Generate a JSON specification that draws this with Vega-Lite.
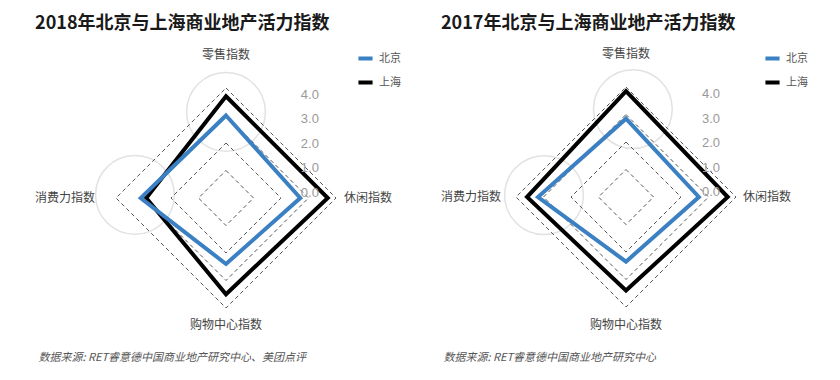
{
  "$schema": "https://vega.github.io/schema/vega-lite/v6.json",
  "padding": {"left": 35, "top": 15, "right": 0, "bottom": 0},
  "background": "white",
  "spacing": 22,
  "config": {"view": {"stroke": null}, "font": "Noto Sans CJK SC"},
  "datasets": {
    "d2018": [
      {"city": "上海", "axis": "零售指数", "value": 3.7},
      {"city": "上海", "axis": "休闲指数", "value": 3.7},
      {"city": "上海", "axis": "购物中心指数", "value": 3.5},
      {"city": "上海", "axis": "消费力指数", "value": 2.9},
      {"city": "北京", "axis": "零售指数", "value": 3.0},
      {"city": "北京", "axis": "休闲指数", "value": 2.7},
      {"city": "北京", "axis": "购物中心指数", "value": 2.4},
      {"city": "北京", "axis": "消费力指数", "value": 3.1}
    ],
    "d2017": [
      {"city": "上海", "axis": "零售指数", "value": 3.85},
      {"city": "上海", "axis": "休闲指数", "value": 3.7},
      {"city": "上海", "axis": "购物中心指数", "value": 3.4},
      {"city": "上海", "axis": "消费力指数", "value": 3.6},
      {"city": "北京", "axis": "零售指数", "value": 2.85},
      {"city": "北京", "axis": "休闲指数", "value": 2.65},
      {"city": "北京", "axis": "购物中心指数", "value": 2.35},
      {"city": "北京", "axis": "消费力指数", "value": 3.2}
    ],
    "rings": [
      {"value": 1, "axis": "零售指数"}, {"value": 1, "axis": "休闲指数"}, {"value": 1, "axis": "购物中心指数"}, {"value": 1, "axis": "消费力指数"},
      {"value": 2, "axis": "零售指数"}, {"value": 2, "axis": "休闲指数"}, {"value": 2, "axis": "购物中心指数"}, {"value": 2, "axis": "消费力指数"},
      {"value": 3, "axis": "零售指数"}, {"value": 3, "axis": "休闲指数"}, {"value": 3, "axis": "购物中心指数"}, {"value": 3, "axis": "消费力指数"},
      {"value": 4, "axis": "零售指数"}, {"value": 4, "axis": "休闲指数"}, {"value": 4, "axis": "购物中心指数"}, {"value": 4, "axis": "消费力指数"}
    ],
    "axes": [
      {"axis": "零售指数"}, {"axis": "休闲指数"}, {"axis": "购物中心指数"}, {"axis": "消费力指数"}
    ],
    "scaleLabels": [
      {"t": "0.0", "v": 0}, {"t": "1.0", "v": 1}, {"t": "2.0", "v": 2}, {"t": "3.0", "v": 3}, {"t": "4.0", "v": 4}
    ]
  },
  "resolve": {"legend": {"color": "independent"}, "scale": {"color": "independent"}},
  "hconcat": [
    {
      "width": 380, "height": 300,
      "title": {"text": "2018年北京与上海商业地产活力指数", "anchor": "start", "fontSize": 18, "fontWeight": "bold", "font": "Noto Sans CJK SC", "color": "#1a1a1a", "offset": 7},
      "encoding": {
        "x": {"field": "x", "type": "quantitative", "scale": {"domain": [-6.836, 6.982], "nice": false, "zero": false},
              "axis": {"title": "数据来源: RET睿意德中国商业地产研究中心、美团点评", "labels": false, "ticks": false, "domain": false, "grid": false, "titleAnchor": "start", "titleFont": "Noto Sans CJK SC", "titleFontSize": 11, "titleFontStyle": "italic", "titleFontWeight": "normal", "titleColor": "#555", "titlePadding": 11}},
        "y": {"field": "y", "type": "quantitative", "scale": {"domain": [-5.164, 5.745], "nice": false, "zero": false}, "axis": null}
      },
      "layer": [
        {"data": {"name": "axes"},
         "transform": [
           {"filter": "datum.axis==='零售指数' || datum.axis==='消费力指数'"},
           {"calculate": "datum.axis==='消费力指数' ? -3.31 : 0", "as": "x"},
           {"calculate": "datum.axis==='零售指数' ? 3.13 : 0.11", "as": "y"}
         ],
         "mark": {"type": "point", "shape": "circle", "size": 6200, "filled": true, "fill": "white", "stroke": "#e2e2e2", "strokeWidth": 1.5, "opacity": 1}},
        {"data": {"name": "rings"},
         "transform": [
           {"calculate": "datum.axis==='休闲指数' ? datum.value : datum.axis==='消费力指数' ? -datum.value : 0", "as": "x"},
           {"calculate": "datum.axis==='零售指数' ? datum.value : datum.axis==='购物中心指数' ? -datum.value : 0", "as": "y"}
         ],
         "mark": {"type": "line", "interpolate": "linear-closed", "stroke": "#555", "strokeWidth": 1, "strokeDash": [4, 3]},
         "encoding": {"detail": {"field": "value", "type": "nominal"}, "order": {"value": null}}},
        {"data": {"name": "d2018"},
         "transform": [
           {"calculate": "datum.axis==='休闲指数' ? datum.value : datum.axis==='消费力指数' ? -datum.value : 0", "as": "x"},
           {"calculate": "datum.axis==='零售指数' ? datum.value : datum.axis==='购物中心指数' ? -datum.value : 0", "as": "y"}
         ],
         "mark": {"type": "line", "interpolate": "linear-closed", "strokeWidth": 4, "strokeJoin": "miter"},
         "encoding": {
           "color": {"field": "city", "type": "nominal", "scale": {"domain": ["北京", "上海"], "range": ["#3b80c3", "#000000"]},
                     "legend": {"title": null, "orient": "none", "legendX": 318, "legendY": 9, "symbolType": "stroke", "symbolStrokeWidth": 4, "symbolSize": 200, "labelFontSize": 11, "labelColor": "#555", "labelFont": "Noto Sans CJK SC", "rowPadding": 6}},
           "order": {"value": null}}},
        {"data": {"name": "axes"},
         "transform": [
           {"calculate": "datum.axis==='休闲指数' ? 5.16 : datum.axis==='消费力指数' ? -5.85 : 0", "as": "x"},
           {"calculate": "datum.axis==='零售指数' ? 5.2 : datum.axis==='购物中心指数' ? -4.62 : 0", "as": "y"}
         ],
         "mark": {"type": "text", "fontSize": 12, "color": "#444", "font": "Noto Sans CJK SC"},
         "encoding": {"text": {"field": "axis"}}},
        {"data": {"name": "scaleLabels"},
         "transform": [
           {"calculate": "3.05", "as": "x"},
           {"calculate": "0.182 + 0.891 * datum.v", "as": "y"}
         ],
         "mark": {"type": "text", "fontSize": 13, "color": "#999", "font": "Liberation Sans"},
         "encoding": {"text": {"field": "t"}}},
        {"data": {"values": [{}]},
         "mark": {"type": "rule", "stroke": "#888", "strokeWidth": 1.5},
         "encoding": {"x": {"datum": 3.45}, "x2": {"datum": 6.44}, "y": {"datum": 6.33}}}
      ]
    },
    {
      "width": 380, "height": 300,
      "title": {"text": "2017年北京与上海商业地产活力指数", "anchor": "start", "fontSize": 18, "fontWeight": "bold", "font": "Noto Sans CJK SC", "color": "#1a1a1a", "offset": 7},
      "encoding": {
        "x": {"field": "x", "type": "quantitative", "scale": {"domain": [-6.655, 7.164], "nice": false, "zero": false},
              "axis": {"title": "数据来源: RET睿意德中国商业地产研究中心", "labels": false, "ticks": false, "domain": false, "grid": false, "titleAnchor": "start", "titleFont": "Noto Sans CJK SC", "titleFontSize": 11, "titleFontStyle": "italic", "titleFontWeight": "normal", "titleColor": "#555", "titlePadding": 11}},
        "y": {"field": "y", "type": "quantitative", "scale": {"domain": [-5.2, 5.71], "nice": false, "zero": false}, "axis": null}
      },
      "layer": [
        {"data": {"name": "axes"},
         "transform": [
           {"filter": "datum.axis==='零售指数' || datum.axis==='消费力指数'"},
           {"calculate": "datum.axis==='消费力指数' ? -2.98 : 0.25", "as": "x"},
           {"calculate": "datum.axis==='零售指数' ? 3.2 : 0.07", "as": "y"}
         ],
         "mark": {"type": "point", "shape": "circle", "size": 6200, "filled": true, "fill": "white", "stroke": "#e2e2e2", "strokeWidth": 1.5, "opacity": 1}},
        {"data": {"name": "rings"},
         "transform": [
           {"calculate": "datum.axis==='休闲指数' ? datum.value : datum.axis==='消费力指数' ? -datum.value : 0", "as": "x"},
           {"calculate": "datum.axis==='零售指数' ? datum.value : datum.axis==='购物中心指数' ? -datum.value : 0", "as": "y"}
         ],
         "mark": {"type": "line", "interpolate": "linear-closed", "stroke": "#555", "strokeWidth": 1, "strokeDash": [4, 3]},
         "encoding": {"detail": {"field": "value", "type": "nominal"}, "order": {"value": null}}},
        {"data": {"name": "d2017"},
         "transform": [
           {"calculate": "datum.axis==='休闲指数' ? datum.value : datum.axis==='消费力指数' ? -datum.value : 0", "as": "x"},
           {"calculate": "datum.axis==='零售指数' ? datum.value : datum.axis==='购物中心指数' ? -datum.value : 0", "as": "y"}
         ],
         "mark": {"type": "line", "interpolate": "linear-closed", "strokeWidth": 4, "strokeJoin": "miter"},
         "encoding": {
           "color": {"field": "city", "type": "nominal", "scale": {"domain": ["北京", "上海"], "range": ["#3b80c3", "#000000"]},
                     "legend": {"title": null, "orient": "none", "legendX": 320, "legendY": 9, "symbolType": "stroke", "symbolStrokeWidth": 4, "symbolSize": 200, "labelFontSize": 11, "labelColor": "#555", "labelFont": "Noto Sans CJK SC", "rowPadding": 6}},
           "order": {"value": null}}},
        {"data": {"name": "axes"},
         "transform": [
           {"calculate": "datum.axis==='休闲指数' ? 5.13 : datum.axis==='消费力指数' ? -5.64 : 0", "as": "x"},
           {"calculate": "datum.axis==='零售指数' ? 5.2 : datum.axis==='购物中心指数' ? -4.65 : 0", "as": "y"}
         ],
         "mark": {"type": "text", "fontSize": 12, "color": "#444", "font": "Noto Sans CJK SC"},
         "encoding": {"text": {"field": "axis"}}},
        {"data": {"name": "scaleLabels"},
         "transform": [
           {"calculate": "3.09", "as": "x"},
           {"calculate": "0.182 + 0.891 * datum.v", "as": "y"}
         ],
         "mark": {"type": "text", "fontSize": 13, "color": "#999", "font": "Liberation Sans"},
         "encoding": {"text": {"field": "t"}}},
        {"data": {"values": [{}]},
         "mark": {"type": "rule", "stroke": "#888", "strokeWidth": 1.5},
         "encoding": {"x": {"datum": 3.56}, "x2": {"datum": 6.55}, "y": {"datum": 6.33}}}
      ]
    }
  ]
}
